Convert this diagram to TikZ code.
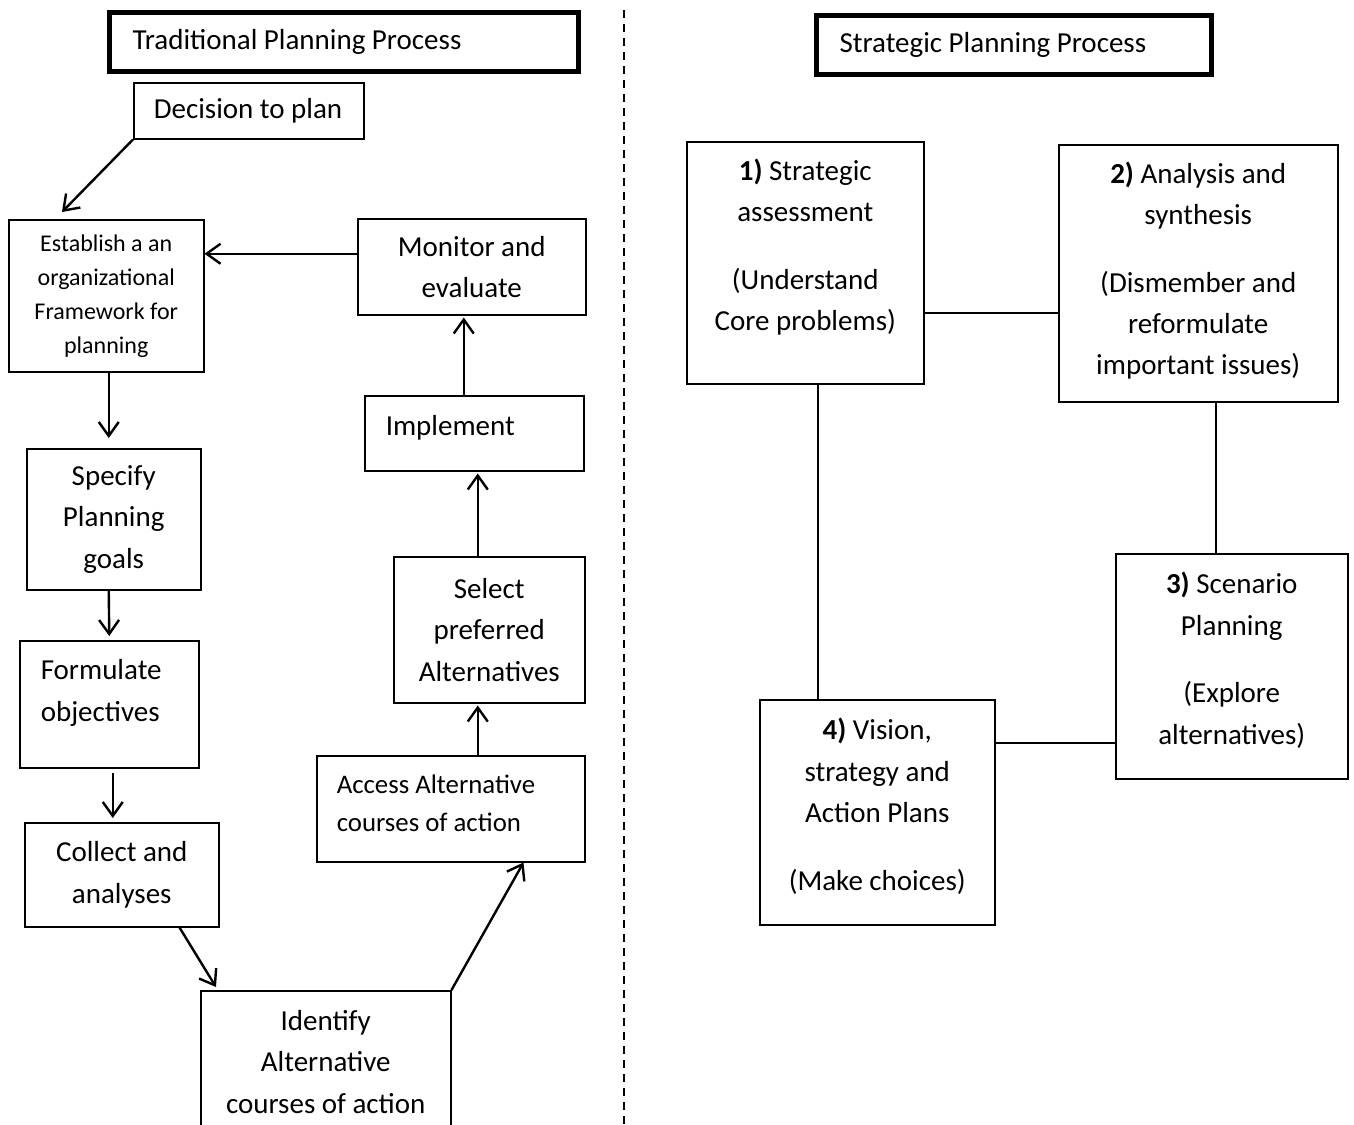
\documentclass[tikz,border=0pt]{standalone}
\usepackage{fontspec}
\setmainfont{Carlito}
\usepackage{tikz}
\usetikzlibrary{arrows.meta}
\tikzset{
    stepbox/.style={
           rectangle,
           draw=black, line width=0.75pt,
           anchor=north west,
           inner xsep=4pt,
           align=center,
           font=\fontsize{14.5}{20.7}\selectfont,
           },
    leftbox/.style={
           stepbox,
           inner xsep=10pt,
           align=flush left,
           },
    titlebox/.style={
           leftbox,
           line width=2.6pt,
           inner xsep=11.5pt,
           },
    flow/.style={->, line width=1.2pt},
    link/.style={-, line width=1pt},
}

\begin{document}
\begin{tikzpicture}[x=0.5pt,y=-0.5pt,>={Straight Barb[length=7pt,width=10pt]}]
   \useasboundingbox (0,0) rectangle (1354,1124);
   \clip (0,0) rectangle (1354,1124);
   % titles and divider
   \node[titlebox, minimum width=234.5pt, minimum height=29.5pt,
 text width=211.5pt] (TPP) at (107,10) {Traditional Planning Process};
   \node[titlebox, minimum width=197.5pt, minimum height=29.5pt,
 text width=174.5pt] (SPP) at (814,13) {Strategic Planning Process};
   \draw[line width=1pt, dash pattern=on 4pt off 3pt] (624,10) -- (624,1124);

   % traditional process
   \node[leftbox, minimum width=115pt, minimum height=28pt,
 text width=95pt] (DP) at (133,82) {Decision to plan};
   \node[stepbox, minimum width=97.5pt, minimum height=76pt,
 font=\fontsize{12}{17}\selectfont] (EOF) at (8,219)
 {Establish a an\\ organizational\\ Framework for\\ planning};
   \node[stepbox, minimum width=114pt, minimum height=48pt] (ME) at (357,218)
 {Monitor and\\ evaluate};
   \node[leftbox, minimum width=109.5pt, minimum height=37.5pt,
 inner xsep=10.5pt, text width=88.5pt] (IM) at (364,395)
 {Implement\rule[-8pt]{0pt}{0pt}};
   \node[stepbox, minimum width=87pt, minimum height=70.5pt] (SPG) at (26,448)
 {Specify\\ Planning\\ goals};
   \node[stepbox, minimum width=95.5pt, minimum height=73pt] (SPA) at (393,556)
 {Select\\ preferred\\ Alternatives};
   \node[leftbox, minimum width=89.5pt, minimum height=63.5pt,
 inner xsep=10.5pt, text width=68.5pt] (FO) at (19,640)
 {Formulate\\ objectives\rule[-14pt]{0pt}{0pt}};
   \node[leftbox, minimum width=134pt, minimum height=53pt,
 text width=114pt, font=\fontsize{13.4}{19}\selectfont] (AAC) at (316,755)
 {Access Alternative\\ courses of action\rule[-6pt]{0pt}{0pt}};
   \node[stepbox, minimum width=97pt, minimum height=52pt] (CA) at (24,822)
 {Collect and\\ analyses};
   \node[stepbox, minimum width=125pt, minimum height=71pt] (IAC) at (200,990)
 {Identify\\ Alternative\\ courses of action};

   % strategic process
   \node[stepbox, minimum width=118.5pt, minimum height=121pt] (SA) at (686,141)
 {\textbf{1)} Strategic\\ assessment\\[13pt] (Understand\\ Core problems)\rule[-18pt]{0pt}{0pt}};
   \node[stepbox, minimum width=139.5pt, minimum height=128.5pt] (AS) at (1058,144)
 {\textbf{2)} Analysis and\\ synthesis\\[13pt] (Dismember and\\ reformulate\\ important issues)\rule[-5pt]{0pt}{0pt}};
   \node[stepbox, minimum width=116pt, minimum height=112.5pt] (SP) at (1115,553)
 {\textbf{3)} Scenario\\ Planning\\[13pt] (Explore\\ alternatives)\rule[-8pt]{0pt}{0pt}};
   \node[stepbox, minimum width=117.5pt, minimum height=112.5pt] (VS) at (759,699)
 {\textbf{4)} Vision,\\ strategy and\\ Action Plans\\[13pt] (Make choices)\rule[-8pt]{0pt}{0pt}};

 % draw the arrows of the traditional process
\path[flow]
  (DP.south west) edge ([xshift=27pt,yshift=3.5pt]EOF.north west)
  ([yshift=6.5pt]ME.west) edge ([yshift=21pt]EOF.east)
  ([xshift=1.25pt]EOF.south) edge ([xshift=-2.5pt,yshift=5pt]SPG.north)
  ([xshift=-2.5pt]SPG.south) edge ([yshift=2pt]FO.north)
  ([xshift=1.75pt,yshift=-2pt]FO.south) edge ([xshift=-4.5pt,yshift=2pt]CA.north)
  ([xshift=-20pt]CA.south east) edge ([xshift=8pt,yshift=1.5pt]IAC.north west)
  (IAC.north east) edge ([xshift=-31pt]AAC.south east)
  ([xshift=13.5pt]AAC.north) edge ([xshift=-5.75pt,yshift=-1pt]SPA.south)
  ([xshift=-5.75pt]SPA.north) edge ([xshift=1.75pt,yshift=-1pt]IM.south)
  ([xshift=-5.25pt]IM.north) edge ([xshift=-4pt,yshift=-1pt]ME.south)
 ;
 % draw the links of the strategic process
\path[link]
  ([yshift=-25pt]SA.east) edge ([yshift=-19.75pt]AS.west)
  ([xshift=8.75pt]AS.south) edge ([xshift=-8pt]SP.north)
  ([xshift=6.25pt]SA.south) edge ([xshift=-29.75pt]VS.north)
  ([yshift=34.75pt]VS.east) edge ([yshift=-38.25pt]SP.west)
 ;
\end{tikzpicture}
\end{document}
